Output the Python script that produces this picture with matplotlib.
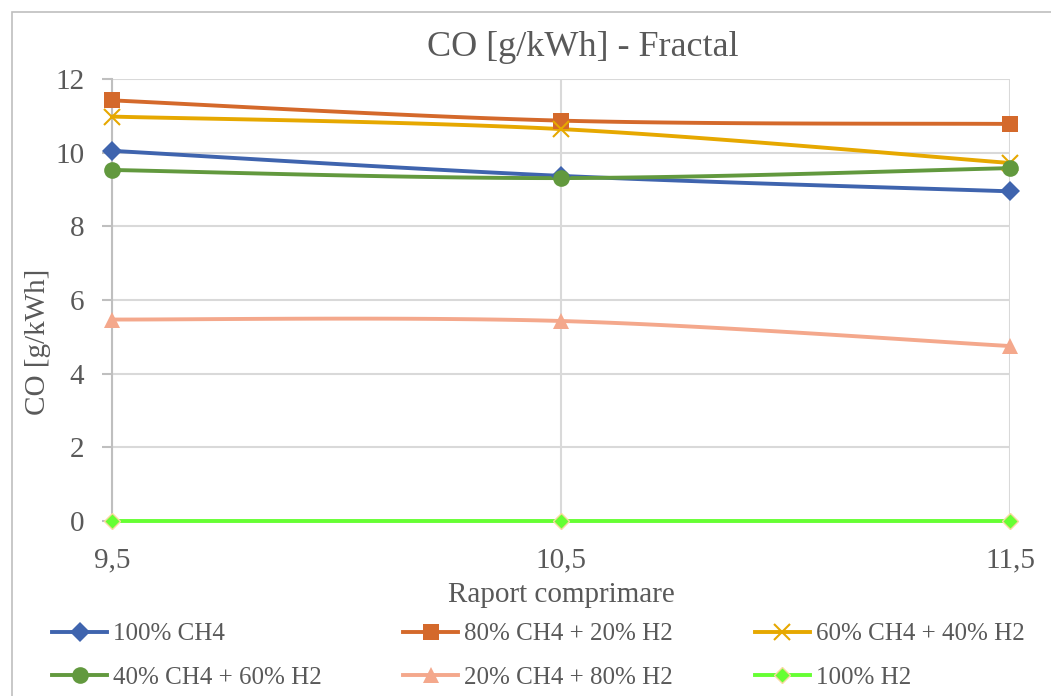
import numpy as np
import matplotlib
matplotlib.use('Agg')
import matplotlib.pyplot as plt
from matplotlib.lines import Line2D

plt.rcParams['font.family'] = ['Liberation Serif', 'DejaVu Serif']

# compression ratio and CO emissions per fuel mix
raport = [9.5, 10.5, 11.5]
ch4_100 = [10.05, 9.37, 8.95]
ch4_80_h2_20 = [11.42, 10.87, 10.78]
ch4_60_h2_40 = [10.98, 10.64, 9.72]
ch4_40_h2_60 = [9.53, 9.31, 9.58]
ch4_20_h2_80 = [5.47, 5.43, 4.75]
h2_100 = [0.0, 0.0, 0.0]

labels = ['100% CH4', '80% CH4 + 20% H2', '60% CH4 + 40% H2',
          '40% CH4 + 60% H2', '20% CH4 + 80% H2', '100% H2']
series = [ch4_100, ch4_80_h2_20, ch4_60_h2_40, ch4_40_h2_60, ch4_20_h2_80, h2_100]
colors = ['#3F64AE', '#D4692B', '#E6A800', '#62993E', '#F4A88C', '#66FF33']
markers = ['D', 's', 'x', 'o', '^', 'D']
msizes = [10, 12, 12, 12, 12, 8]
edges = [None, None, None, None, None, '#F8D9A0']

TXT = '#595959'


def smooth(x, y, n=60, tension=0.5):
    # cardinal spline through the points, like a spreadsheet "smoothed line"
    x = np.asarray(x, float)
    y = np.asarray(y, float)
    px = np.concatenate([[x[0]], x, [x[-1]]])
    py = np.concatenate([[y[0]], y, [y[-1]]])
    xs, ys = [], []
    for i in range(1, len(px) - 2):
        p0, p1, p2, p3 = (np.array([px[j], py[j]]) for j in range(i - 1, i + 3))
        m1 = tension * (p2 - p0)
        m2 = tension * (p3 - p1)
        t = np.linspace(0, 1, n)[:, None]
        h00 = 2 * t**3 - 3 * t**2 + 1
        h10 = t**3 - 2 * t**2 + t
        h01 = -2 * t**3 + 3 * t**2
        h11 = t**3 - t**2
        pts = h00 * p1 + h10 * m1 + h01 * p2 + h11 * m2
        xs.extend(pts[:, 0])
        ys.extend(pts[:, 1])
    return np.array(xs), np.array(ys)


def marker_kw(m, ms, c, e):
    kw = dict(marker=m, markersize=ms, color=c)
    if m == 'x':
        kw['markeredgewidth'] = 1.5
    elif e is not None:
        kw['markeredgecolor'] = e
        kw['markeredgewidth'] = 1.0
    else:
        kw['markeredgewidth'] = 0
    return kw


fig = plt.figure(figsize=(10.51, 6.96), dpi=100)
ax = fig.add_axes([112 / 1051, 1 - 521 / 696, 898 / 1051, 442 / 696])

# chart frame
fig.patches.append(plt.Rectangle((12 / 1051, -0.1), 1.2, 1.1 - 12 / 696,
                                 transform=fig.transFigure, fill=False,
                                 edgecolor='#BFBFBF', linewidth=1.2))

for vals, c, m, ms, e in zip(series, colors, markers, msizes, edges):
    sx, sy = smooth(raport, vals)
    ax.plot(sx, sy, color=c, linewidth=2.8, solid_capstyle='round', zorder=3,
            clip_on=False)
    ax.plot(raport, vals, linestyle='none', zorder=4, clip_on=False,
            **marker_kw(m, ms, c, e))

ax.set_xlim(9.5, 11.5)
ax.set_ylim(0, 12)
ax.set_xticks([9.5, 10.5, 11.5])
ax.set_xticklabels(['9,5', '10,5', '11,5'])
ax.set_yticks(range(0, 13, 2))
ax.grid(True, color='#D9D9D9', linewidth=1.5)
ax.set_axisbelow(True)
for s in ax.spines.values():
    s.set_visible(False)
ax.spines['left'].set_visible(True)
ax.spines['left'].set_color('#BFBFBF')
ax.spines['left'].set_linewidth(1.5)
ax.tick_params(axis='y', direction='out', length=7, width=1.5, color='#BFBFBF',
               labelsize=21, labelcolor=TXT, pad=13)
ax.tick_params(axis='x', length=0, labelsize=21, labelcolor=TXT, pad=19)

fig.text(583 / 1051, 1 - 47 / 696, 'CO [g/kWh] - Fractal', fontsize=26,
         color=TXT, ha='center', va='center')
ax.set_xlabel('Raport comprimare', fontsize=21, color=TXT, va='center')
ax.xaxis.set_label_coords(0.5, (521 - 595) / 442)
ax.set_ylabel('CO [g/kWh]', fontsize=21, color=TXT, va='center')
ax.yaxis.set_label_coords((38 - 112) / 898, (521 - 342) / 442)

handles = [Line2D([], [], linewidth=2.8, **marker_kw(m, ms, c, e))
           for c, m, ms, e in zip(colors, markers, msizes, edges)]
# legend fills columns first, so interleave to read row by row
order = [0, 3, 1, 4, 2, 5]
fig.legend([handles[i] for i in order], [labels[i] for i in order],
           loc='center left', bbox_to_anchor=(42 / 1051, 1 - 656 / 696),
           ncol=3, frameon=False, fontsize=18, labelcolor=TXT,
           handlelength=2.2, handletextpad=0.25, columnspacing=3.25,
           labelspacing=0.85, borderaxespad=0)

fig.savefig('out.png', dpi=100)
